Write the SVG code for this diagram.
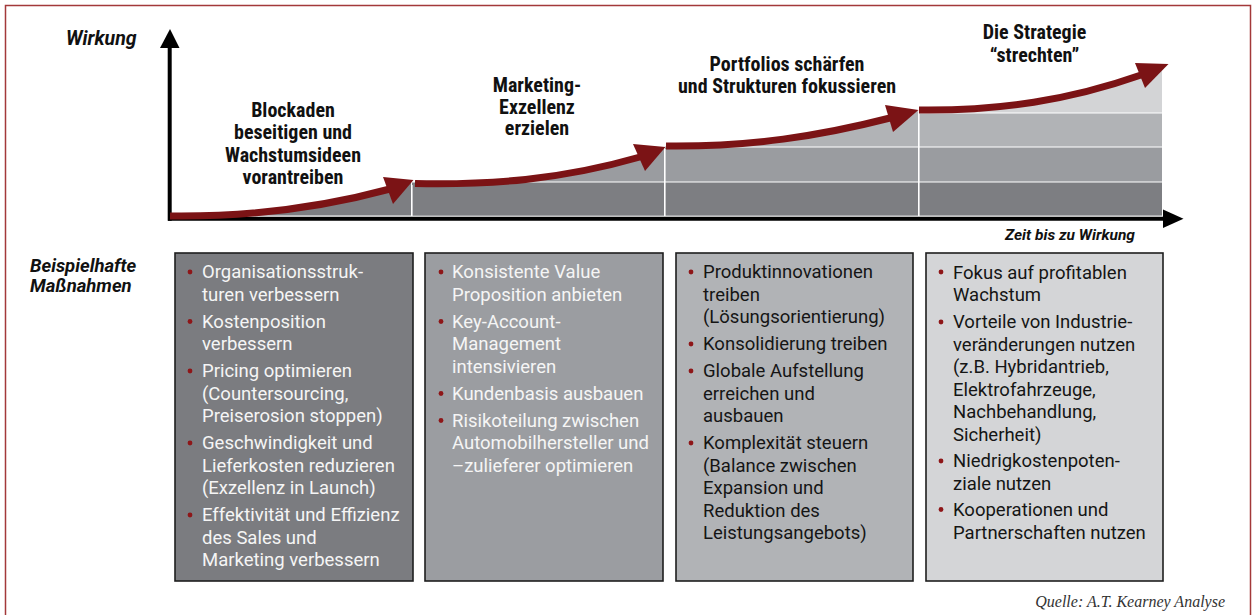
<svg xmlns="http://www.w3.org/2000/svg" width="1257" height="615" viewBox="0 0 1257 615">
  <style>
    .frame { fill: none; stroke: #a3393a; stroke-width: 1.5; }
    .axis { stroke: #000; stroke-width: 4; fill: none; }
    .axhead { fill: #000; }
    .c-dark { fill: #7d7e82; }
    .c-mid { fill: #9a9ca0; }
    .c-light { fill: #b1b3b6; }
    .c-pale { fill: #d3d4d6; }
    .sep { stroke: #fff; stroke-width: 1.2; fill: none; }
    .curve { fill: none; stroke: #7b1315; stroke-width: 7; }
    .head { fill: #7b1315; }
    .phase { font-family: Roboto, "Liberation Sans", sans-serif; font-weight: bold; font-size: 20px; font-stretch: 87.5%; fill: #111; text-anchor: middle; }
    .axlabel { font-family: Roboto, "Liberation Sans", sans-serif; font-weight: bold; font-style: italic; fill: #111; }
    .box { stroke: #1e1e1e; stroke-width: 1.6; }
    .item { font-family: Roboto, "Liberation Sans", sans-serif; font-size: 18.5px; }
    .on-dark { fill: #f5f5f5; }
    .on-light { fill: #151515; }
    .dot { fill: #8e1618; }
    .source { font-family: "Liberation Serif", serif; font-style: italic; font-size: 16px; fill: #333; text-anchor: end; }
  </style>

  <rect class="frame" x="5.5" y="5.5" width="1245" height="640"/>

  <!-- stacked effect bands under the growth curve -->
  <g id="bands">
    <path class="c-dark" d="M170,215.5 L170,216 C250,217 320,208 390,189 L411,182 L411,215.5 Z"/>
    <path class="c-mid" d="M412,183.5 L415,183.5 C490,185 560,180 640,157 L664,148 L664,215.5 L412,215.5 Z"/>
    <rect class="c-dark" x="412" y="182" width="252" height="33.5"/>
    <path class="c-light" d="M665,146 C750,147 820,136 890,118 L918,111 L918,215.5 L665,215.5 Z"/>
    <rect class="c-mid" x="665" y="147" width="253" height="35"/>
    <rect class="c-dark" x="665" y="182" width="253" height="33.5"/>
    <path class="c-pale" d="M919,110 C1000,111 1070,100 1141,75 L1162,68 L1162,215.5 L919,215.5 Z"/>
    <rect class="c-light" x="919" y="113" width="243" height="34"/>
    <rect class="c-mid" x="919" y="147" width="243" height="35"/>
    <rect class="c-dark" x="919" y="182" width="243" height="33.5"/>
    <path class="sep" d="M412,185 V216 M665,149 V216 M919,113 V216 M412,182 H1162 M665,147 H1162 M919,113 H1162"/>
  </g>

  <!-- axes -->
  <g id="axes">
    <line class="axis" x1="169.7" y1="46" x2="169.7" y2="220.7"/>
    <polygon class="axhead" points="160,48 170,29 179.5,48"/>
    <line class="axis" x1="168" y1="218.7" x2="1165" y2="218.7"/>
    <polygon class="axhead" points="1163,209.5 1183.5,218.7 1163,228"/>
    <text class="axlabel" x="66" y="45" font-size="19.5">Wirkung</text>
    <text class="axlabel" x="1005" y="240" font-size="15.5" font-style="normal">Zeit bis zu Wirkung</text>
    <text class="axlabel" x="30" y="272" font-size="18.5">Beispielhafte</text>
    <text class="axlabel" x="30" y="292" font-size="18.5">Maßnahmen</text>
  </g>

  <!-- growth curve, one arrow per phase -->
  <g id="connectors">
    <path class="curve" d="M170,216 C250,217 320,208 390,189"/>
    <polygon class="head" points="383,177 413.5,180 393,204"/>
    <path class="curve" d="M415,183.5 C490,185 560,180 640,157"/>
    <polygon class="head" points="633,144 665.5,147 645,171"/>
    <path class="curve" d="M666,146 C750,147 820,136 890,118"/>
    <polygon class="head" points="885,105 918.5,110 893,132"/>
    <path class="curve" d="M919,110 C1000,111 1070,100 1141,75"/>
    <polygon class="head" points="1135,63 1168.5,64 1145,88"/>
  </g>

  <!-- phase labels -->
  <g id="phase1">
    <text class="phase" x="293" y="117">Blockaden</text>
    <text class="phase" x="293" y="139.3">beseitigen und</text>
    <text class="phase" x="293" y="161.5">Wachstumsideen</text>
    <text class="phase" x="293" y="183.8">vorantreiben</text>
  </g>
  <g id="phase2">
    <text class="phase" x="537" y="91.5">Marketing-</text>
    <text class="phase" x="537" y="113.5">Exzellenz</text>
    <text class="phase" x="537" y="135.3">erzielen</text>
  </g>
  <g id="phase3">
    <text class="phase" x="787" y="71">Portfolios schärfen</text>
    <text class="phase" x="787" y="92.5">und Strukturen fokussieren</text>
  </g>
  <g id="phase4">
    <text class="phase" x="1034.5" y="39.3">Die Strategie</text>
    <text class="phase" x="1034.5" y="61.7">“strechten”</text>
  </g>

  <!-- measure boxes -->
  <g id="measures1">
    <rect class="box" x="175" y="253" width="238" height="328" fill="#7b7c80"/>
    <g class="dot">
      <circle cx="190" cy="272" r="2.4"/><circle cx="190" cy="321.5" r="2.4"/><circle cx="190" cy="371" r="2.4"/>
      <circle cx="190" cy="443" r="2.4"/><circle cx="190" cy="515" r="2.4"/>
    </g>
    <g class="item on-dark">
      <text x="202" y="278">Organisationsstruk-</text>
      <text x="202" y="300.5">turen verbessern</text>
      <text x="202" y="327.5">Kostenposition</text>
      <text x="202" y="350">verbessern</text>
      <text x="202" y="377">Pricing optimieren</text>
      <text x="202" y="399.5">(Countersourcing,</text>
      <text x="202" y="422">Preiserosion stoppen)</text>
      <text x="202" y="449">Geschwindigkeit und</text>
      <text x="202" y="471.5">Lieferkosten reduzieren</text>
      <text x="202" y="494">(Exzellenz in Launch)</text>
      <text x="202" y="521">Effektivität und Effizienz</text>
      <text x="202" y="543.5">des Sales und</text>
      <text x="202" y="566">Marketing verbessern</text>
    </g>
  </g>

  <g id="measures2">
    <rect class="box" x="425" y="253" width="238" height="328" fill="#9b9da1"/>
    <g class="dot">
      <circle cx="441" cy="272" r="2.4"/><circle cx="441" cy="321.5" r="2.4"/><circle cx="441" cy="393.5" r="2.4"/>
      <circle cx="441" cy="420.5" r="2.4"/>
    </g>
    <g class="item on-dark">
      <text x="452" y="278">Konsistente Value</text>
      <text x="452" y="300.5">Proposition anbieten</text>
      <text x="452" y="327.5">Key-Account-</text>
      <text x="452" y="350">Management</text>
      <text x="452" y="372.5">intensivieren</text>
      <text x="452" y="399.5">Kundenbasis ausbauen</text>
      <text x="452" y="426.5">Risikoteilung zwischen</text>
      <text x="452" y="449">Automobilhersteller und</text>
      <text x="452" y="471.5">–zulieferer optimieren</text>
    </g>
  </g>

  <g id="measures3">
    <rect class="box" x="676" y="253" width="237" height="328" fill="#b1b3b6"/>
    <g class="dot">
      <circle cx="691" cy="272" r="2.4"/><circle cx="691" cy="344" r="2.4"/><circle cx="691" cy="371" r="2.4"/>
      <circle cx="691" cy="443" r="2.4"/>
    </g>
    <g class="item on-light">
      <text x="703" y="278">Produktinnovationen</text>
      <text x="703" y="300.5">treiben</text>
      <text x="703" y="323">(Lösungsorientierung)</text>
      <text x="703" y="350">Konsolidierung treiben</text>
      <text x="703" y="377">Globale Aufstellung</text>
      <text x="703" y="399.5">erreichen und</text>
      <text x="703" y="422">ausbauen</text>
      <text x="703" y="449">Komplexität steuern</text>
      <text x="703" y="471.5">(Balance zwischen</text>
      <text x="703" y="494">Expansion und</text>
      <text x="703" y="516.5">Reduktion des</text>
      <text x="703" y="539">Leistungsangebots)</text>
    </g>
  </g>

  <g id="measures4">
    <rect class="box" x="926" y="253" width="237" height="328" fill="#d4d5d7"/>
    <g class="dot">
      <circle cx="941" cy="272" r="2.4"/><circle cx="941" cy="322" r="2.4"/><circle cx="941" cy="461" r="2.4"/>
      <circle cx="941" cy="509.5" r="2.4"/>
    </g>
    <g class="item on-light">
      <text x="953" y="278.5">Fokus auf profitablen</text>
      <text x="953" y="301">Wachstum</text>
      <text x="953" y="328">Vorteile von Industrie-</text>
      <text x="953" y="350.5">veränderungen nutzen</text>
      <text x="953" y="373">(z.B. Hybridantrieb,</text>
      <text x="953" y="395.5">Elektrofahrzeuge,</text>
      <text x="953" y="418">Nachbehandlung,</text>
      <text x="953" y="440.5">Sicherheit)</text>
      <text x="953" y="467">Niedrigkostenpoten-</text>
      <text x="953" y="489.5">ziale nutzen</text>
      <text x="953" y="515.5">Kooperationen und</text>
      <text x="953" y="538.5">Partnerschaften nutzen</text>
    </g>
  </g>

  <text class="source" x="1225" y="607">Quelle: A.T. Kearney Analyse</text>
</svg>
